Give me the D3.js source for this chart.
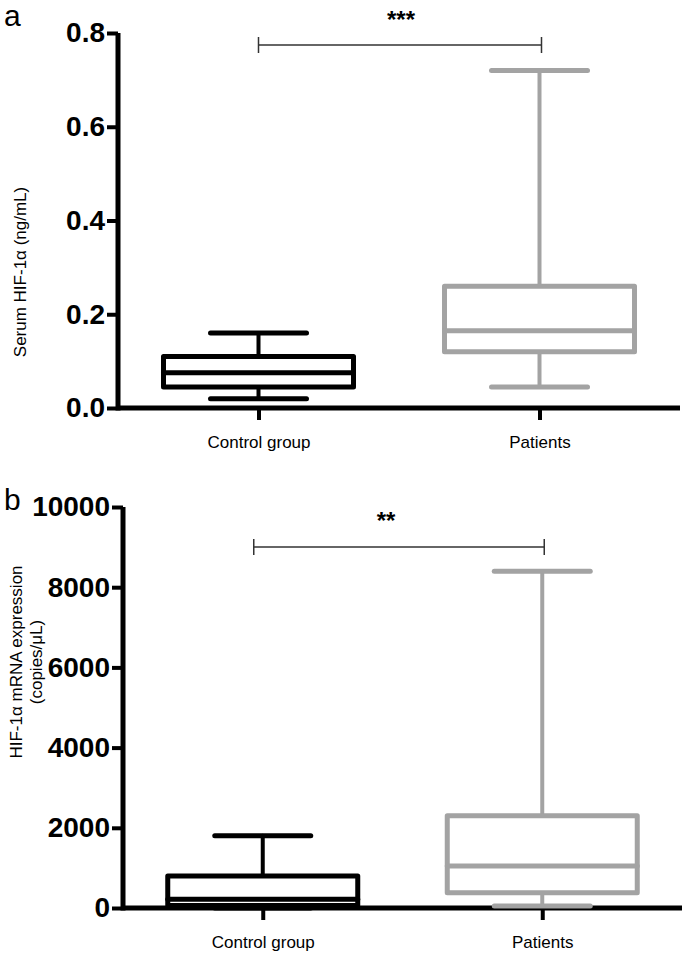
<!DOCTYPE html>
<html>
<head>
<meta charset="utf-8">
<script src="https://cdn.jsdelivr.net/npm/d3@7"></script>
<style>
  body { margin: 0; background: #fff; }
  svg { display: block; }
  text { font-family: "Liberation Sans", Arial, sans-serif; }
</style>
</head>
<body>
<svg id="chart" width="685" height="960"></svg>
<script>
// ---------------- DATA ----------------
const categories = ["Control group", "Patients"];

// Panel a: Serum HIF-1α (ng/mL)
const serumMin    = [0.02, 0.045];
const serumQ1     = [0.045, 0.12];
const serumMedian = [0.075, 0.165];
const serumQ3     = [0.11, 0.26];
const serumMax    = [0.16, 0.72];
const serumTicks  = [0, 0.2, 0.4, 0.6, 0.8];
const serumSig    = "***";

// Panel b: HIF-1α mRNA expression (copies/μL)
const mrnaMin    = [0, 50];
const mrnaQ1     = [60, 380];
const mrnaMedian = [220, 1050];
const mrnaQ3     = [800, 2300];
const mrnaMax    = [1800, 8400];
const mrnaTicks  = [0, 2000, 4000, 6000, 8000, 10000];
const mrnaSig    = "**";

// ---------------- STYLE ----------------
const boxColors = ["#000000", "#a3a3a3"];
const svg = d3.select("#chart");

function panel(cfg) {
  const g = svg.append("g");
  const y = d3.scaleLinear().domain(cfg.domain).range([cfg.y0, cfg.y1]);
  const x = d3.scalePoint().domain(categories).range([cfg.x0, cfg.x1]).padding(0.5);

  // axes
  const yAxis = d3.axisLeft(y).tickValues(cfg.ticks).tickSize(11).tickSizeOuter(0)
    .tickPadding(2).tickFormat(cfg.fmt);
  const ya = g.append("g").attr("transform", `translate(${cfg.x0},0)`).call(yAxis);
  ya.select(".domain").attr("stroke", "#000").attr("stroke-width", 5)
    .attr("d", `M0,${cfg.y0 + 2.5}V${cfg.y1}`);
  ya.selectAll(".tick line").attr("stroke", "#000").attr("stroke-width", 4);
  ya.selectAll(".tick text").attr("fill", "#000").attr("font-size", 28)
    .attr("font-weight", "bold").attr("font-family", "Liberation Sans, Arial, sans-serif");

  const xAxis = d3.axisBottom(x).tickSize(12).tickSizeOuter(0).tickPadding(16);
  const xa = g.append("g").attr("transform", `translate(0,${cfg.y0})`).call(xAxis);
  xa.select(".domain").attr("stroke", "#000").attr("stroke-width", 5)
    .attr("d", `M${cfg.x0},0H${cfg.x1}`);
  xa.selectAll(".tick line").attr("stroke", "#000").attr("stroke-width", 4);
  xa.selectAll(".tick text").attr("fill", "#000").attr("font-size", 17)
    .attr("font-family", "Liberation Sans, Arial, sans-serif");

  // boxes
  const halfBox = 95, halfCap = 48;
  categories.forEach((c, i) => {
    const cx = x(c);
    const col = boxColors[i];
    const bg = g.append("g").attr("stroke", col).attr("fill", "none")
      .attr("stroke-linecap", "round").attr("stroke-linejoin", "round");
    // whiskers
    bg.append("line").attr("x1", cx).attr("x2", cx)
      .attr("y1", y(cfg.max[i])).attr("y2", y(cfg.q3[i])).attr("stroke-width", 4);
    bg.append("line").attr("x1", cx).attr("x2", cx)
      .attr("y1", y(cfg.q1[i])).attr("y2", y(cfg.min[i])).attr("stroke-width", 4);
    // caps
    [cfg.max[i], cfg.min[i]].forEach(v => {
      bg.append("line").attr("x1", cx - halfCap).attr("x2", cx + halfCap)
        .attr("y1", y(v)).attr("y2", y(v)).attr("stroke-width", 5);
    });
    // box
    bg.append("rect").attr("x", cx - halfBox).attr("width", 2 * halfBox)
      .attr("y", y(cfg.q3[i])).attr("height", y(cfg.q1[i]) - y(cfg.q3[i]))
      .attr("fill", "#fff").attr("stroke-width", 5);
    // median
    bg.append("line").attr("x1", cx - halfBox).attr("x2", cx + halfBox)
      .attr("y1", y(cfg.median[i])).attr("y2", y(cfg.median[i])).attr("stroke-width", 5);
  });

  // significance bracket
  const bx1 = x(categories[0]) + cfg.brDx1, bx2 = x(categories[1]) + cfg.brDx2;
  const br = g.append("g").attr("stroke", "#333").attr("stroke-width", 1.5).attr("fill", "none");
  br.append("line").attr("x1", bx1).attr("x2", bx2).attr("y1", cfg.brY).attr("y2", cfg.brY);
  br.append("line").attr("x1", bx1).attr("x2", bx1).attr("y1", cfg.brY - 8).attr("y2", cfg.brY + 8);
  br.append("line").attr("x1", bx2).attr("x2", bx2).attr("y1", cfg.brY - 8).attr("y2", cfg.brY + 8);
  g.append("text").attr("x", (bx1 + bx2) / 2 + cfg.starDx).attr("y", cfg.starY)
    .attr("text-anchor", "middle").attr("font-size", 24).attr("font-weight", "bold")
    .text(cfg.sig);

  // panel letter
  g.append("text").attr("x", 4).attr("y", cfg.letterY).attr("font-size", 30).text(cfg.letter);

  // y title
  const t = g.append("text").attr("transform", `translate(${cfg.titleX},${cfg.titleY}) rotate(-90)`)
    .attr("text-anchor", "middle").attr("font-size", 17);
  cfg.title.forEach((line, k) => {
    t.append("tspan").attr("x", 0).attr("dy", k === 0 ? 0 : "1.2em").text(line);
  });
}

panel({
  domain: [0, 0.8], y0: 408, y1: 33, x0: 118, x1: 680,
  ticks: serumTicks, fmt: d3.format(".1f"),
  min: serumMin, q1: serumQ1, median: serumMedian, q3: serumQ3, max: serumMax,
  brY: 45, brDx1: 0, brDx2: 2, starY: 28, starDx: 1, sig: serumSig,
  letter: "a", letterY: 26,
  title: ["Serum HIF-1α (ng/mL)"], titleX: 26, titleY: 272
});

panel({
  domain: [0, 10000], y0: 908, y1: 507, x0: 123, x1: 682,
  ticks: mrnaTicks, fmt: d3.format("d"),
  min: mrnaMin, q1: mrnaQ1, median: mrnaMedian, q3: mrnaQ3, max: mrnaMax,
  brY: 547, brDx1: -9, brDx2: 2, starY: 529, starDx: -13, sig: mrnaSig,
  letter: "b", letterY: 510,
  title: ["HIF-1α mRNA expression", "(copies/μL)"], titleX: 22, titleY: 662
});
</script>
</body>
</html>
